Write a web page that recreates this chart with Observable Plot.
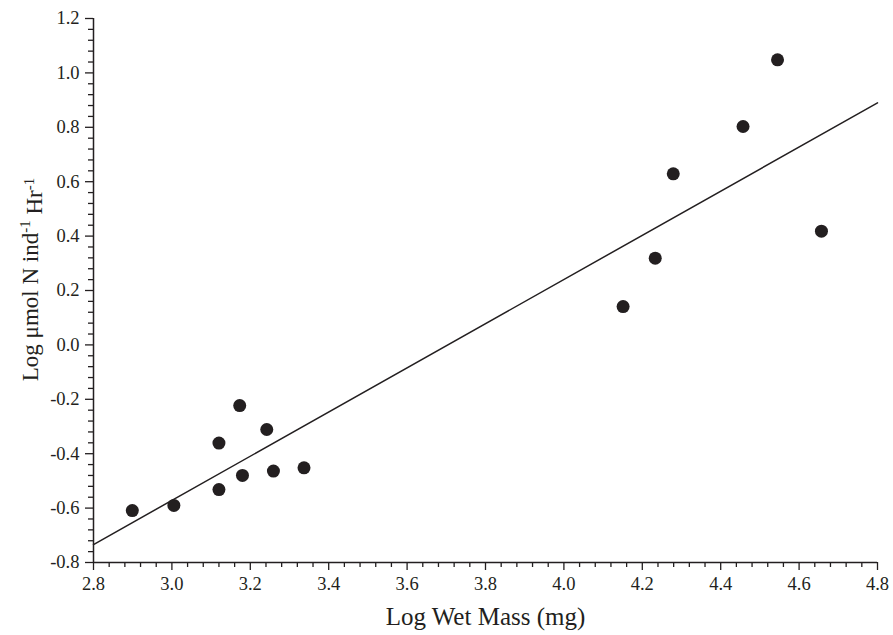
<!DOCTYPE html>
<html><head><meta charset="utf-8">
<script src="https://cdn.jsdelivr.net/npm/d3@7"></script>
<script src="https://cdn.jsdelivr.net/npm/@observablehq/plot@0.6"></script>
<style>body{margin:0;background:#fff} svg{display:block}</style>
</head><body><div id="chart"></div>
<script>
const massLog = [2.899, 3.005, 3.120, 3.120, 3.173, 3.180, 3.242, 3.259, 3.337, 4.151, 4.233, 4.279, 4.457, 4.545, 4.657];
const excretionLog = [-0.609, -0.590, -0.361, -0.532, -0.223, -0.480, -0.311, -0.464, -0.452, 0.141, 0.319, 0.629, 0.803, 1.048, 0.418];
const fitX = [2.8, 4.8];
const fitY = [-0.734, 0.890];
const xMajor = [2.8, 3.0, 3.2, 3.4, 3.6, 3.8, 4.0, 4.2, 4.4, 4.6, 4.8];
const yMajor = [-0.8, -0.6, -0.4, -0.2, 0.0, 0.2, 0.4, 0.6, 0.8, 1.0, 1.2];
const xLabel = "Log Wet Mass (mg)";
const yLabelParts = [["Log μmol N ind", false], ["-1", true], [" Hr", false], ["-1", true]];

const points = massLog.map((x, i) => ({x, y: excretionLog[i]}));
const fit = fitX.map((x, i) => ({x, y: fitY[i]}));
const minor = (ticks) => {
  const out = [];
  for (let i = 0; i < ticks.length - 1; i++) {
    const step = (ticks[i + 1] - ticks[i]) / 5;
    for (let k = 1; k < 5; k++) out.push(+(ticks[i] + k * step).toFixed(3));
  }
  return out;
};
const ink = "#231f20";
const serif = "'Liberation Serif', 'Times New Roman', serif";
const fmt = d => d.toFixed(1);

const svg = Plot.plot({
  width: 893,
  height: 635,
  marginLeft: 93,
  marginRight: 16,
  marginTop: 18,
  marginBottom: 73,
  style: {fontFamily: serif, color: ink, background: "#fff"},
  x: {domain: [2.8, 4.8], label: null},
  y: {domain: [-0.8, 1.2], label: null},
  marks: [
    Plot.axisX({ticks: minor(xMajor), tickSize: 5, text: null, stroke: ink, strokeWidth: 1.3, label: null}),
    Plot.axisX({ticks: xMajor, tickSize: 8, text: null, stroke: ink, strokeWidth: 1.3, label: null}),
    Plot.axisY({ticks: minor(yMajor), tickSize: 5, text: null, stroke: ink, strokeWidth: 1.3, label: null}),
    Plot.axisY({ticks: yMajor, tickSize: 8, text: null, stroke: ink, strokeWidth: 1.3, label: null}),
    Plot.text(xMajor, {x: d => d, text: fmt, frameAnchor: "bottom", dy: 27, fontSize: 18.5, fontFamily: serif, fill: ink}),
    Plot.text(yMajor, {y: d => d, text: fmt, frameAnchor: "left", textAnchor: "end", dx: -14, fontSize: 18.5, fontFamily: serif, fill: ink}),
    Plot.ruleX([2.8], {stroke: ink, strokeWidth: 1.5}),
    Plot.ruleY([-0.8], {stroke: ink, strokeWidth: 1.5}),
    Plot.line(fit, {x: "x", y: "y", stroke: ink, strokeWidth: 1.5}),
    Plot.dot(points, {x: "x", y: "y", r: 6.5, fill: ink, stroke: "none"}),
    Plot.text([xLabel], {frameAnchor: "bottom", dy: 62, fontSize: 25, fontFamily: serif, fill: ink}),
    Plot.text(["YLABEL"], {frameAnchor: "left", textAnchor: "middle", dx: -63, dy: -11, rotate: -90, fontSize: 23, fontFamily: serif, fill: ink})
  ]
});

const s = d3.select(svg);
s.selectAll("text").filter(function() { return this.textContent === "YLABEL"; })
  .each(function() {
    const t = d3.select(this);
    t.text(null);
    let shifted = false;
    for (const [str, sup] of yLabelParts) {
      const ts = t.append("tspan").text(str);
      if (sup && !shifted) { ts.attr("dy", "-0.5em").attr("font-size", 15); shifted = true; }
      else if (!sup && shifted) { ts.attr("dy", "0.5em"); shifted = false; }
      else if (sup) ts.attr("font-size", 15);
    }
  });

document.getElementById("chart").appendChild(svg);
</script>
</body></html>
